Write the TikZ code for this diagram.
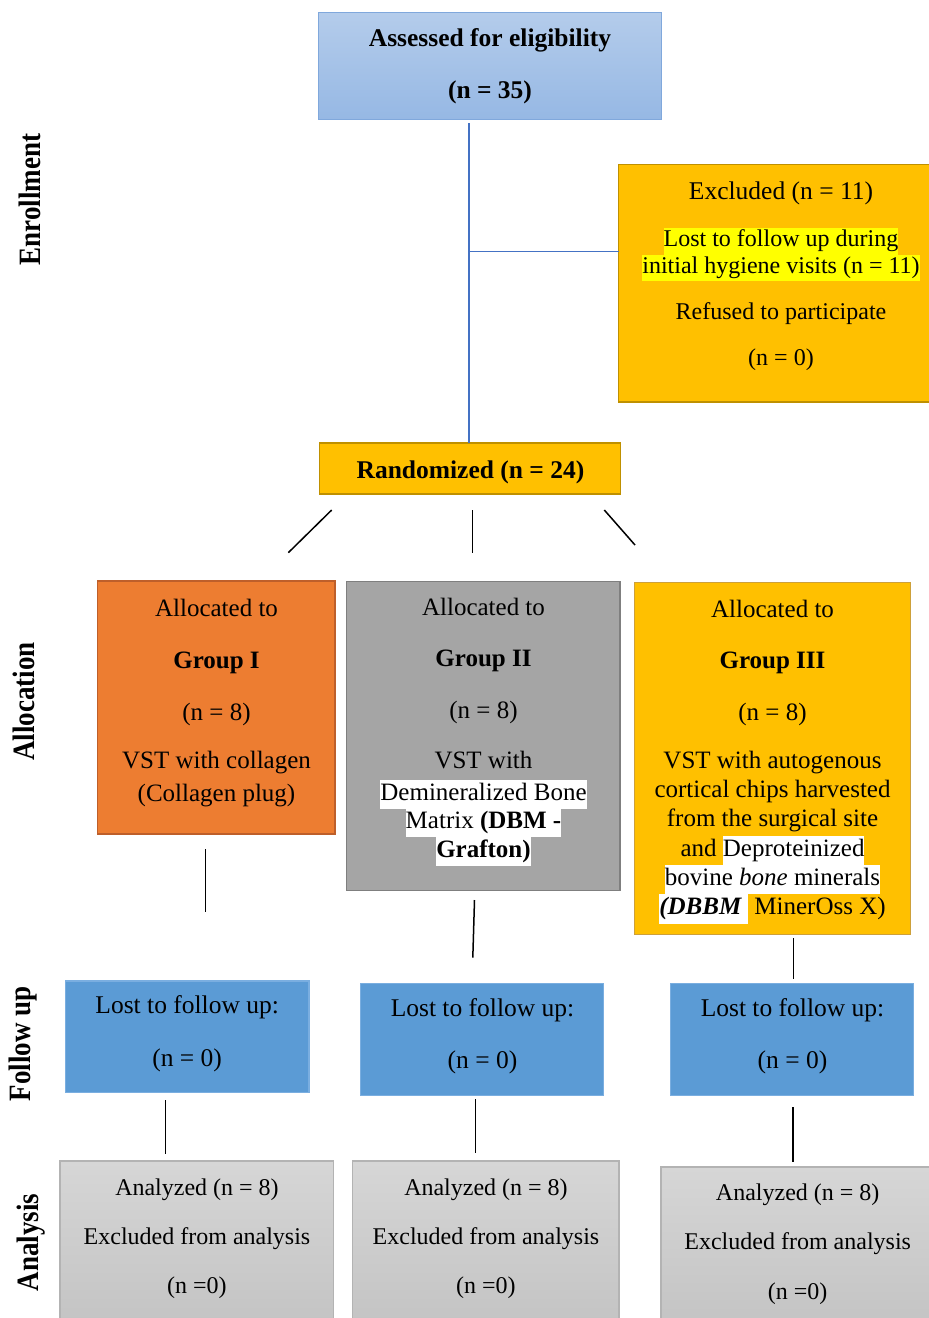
\documentclass[tikz,border=0pt]{standalone}
\usepackage{fontspec}
\setmainfont{Liberation Serif}
\usepackage{graphicx}
\definecolor{yelF}{HTML}{FFC000}
\definecolor{yelB}{HTML}{BF9000}
\definecolor{yelB2}{HTML}{CDA03A}
\definecolor{orgF}{HTML}{ED7D31}
\definecolor{orgB}{HTML}{BE5F2A}
\definecolor{gryF}{HTML}{A5A5A5}
\definecolor{gryB}{HTML}{7F7F7F}
\definecolor{bluF}{HTML}{5B9BD5}
\definecolor{bluB}{HTML}{7AAEE0}
\definecolor{asTop}{HTML}{B4CCEB}
\definecolor{asBot}{HTML}{96B8E4}
\definecolor{asB}{HTML}{80A8DC}
\definecolor{anTop}{HTML}{D6D6D6}
\definecolor{anBot}{HTML}{C3C3C3}
\definecolor{anB}{HTML}{B3B3B3}
\definecolor{lineBlue}{HTML}{4472C4}
\definecolor{hlYel}{HTML}{FFFF00}
\newcommand{\myhl}[2]{{\setlength{\fboxsep}{0pt}\colorbox{#1}{\strut #2}}}
\begin{document}
\begin{tikzpicture}[x=1pt,y=-1pt]
\tikzset{
  box/.style={draw, line width=1.8, inner sep=0pt, outer sep=0pt, rectangle},
  tx/.style={inner sep=0pt, outer sep=0pt, align=center, anchor=north},
  conn/.style={draw=black, line width=1.5},
  bconn/.style={draw=lineBlue, line width=2},
  side/.style={rotate=90, inner sep=0pt, font=\fontsize{27}{30}\selectfont\bfseries},
}
\clip (0,0) rectangle (929,1318);
\fill[white] (0,0) rectangle (929,1318);

% side labels
\node[side] (sEnr) at (30,199.5) {\scalebox{1}[1.15]{Enrollment}};
\node[side] (sAll) at (24,701.5) {\scalebox{1}[1.15]{Allocation}};
\node[side] (sFol) at (23,1044) {\scalebox{1}[1.15]{Follow up}};
\node[side] (sAna) at (31,1242.5) {\scalebox{1}[1.15]{Analysis}};

% boxes
\node[box, draw=asB, line width=1.2, top color=asTop, bottom color=asBot, minimum width=343, minimum height=106.8] (assess) at (490,65.9) {};
\node[box, draw=yelB, fill=yelF, minimum width=324.5, minimum height=237.8] (excl) at (780.75,283.4) {};
\node[box, draw=yelB, fill=yelF, minimum width=301, minimum height=51.4] (rand) at (470,468.5) {};
\node[box, draw=orgB, fill=orgF, minimum width=237.3, minimum height=253] (g1) at (216.15,707.5) {};
\node[box, draw=gryB, fill=gryF, minimum width=273.5, minimum height=309] (g2) at (483.25,736) {};
\node[box, draw=yelB2, fill=yelF, minimum width=276, minimum height=352] (g3) at (772.5,758.5) {};
\node[box, draw=bluB, fill=bluF, line width=1.2, minimum width=243.5, minimum height=111.7] (fu1) at (187.25,1036.85) {};
\node[box, draw=bluB, fill=bluF, line width=1.2, minimum width=243, minimum height=112] (fu2) at (482,1039.3) {};
\node[box, draw=bluB, fill=bluF, line width=1.2, minimum width=243, minimum height=112] (fu3) at (792,1039.3) {};
\node[box, draw=anB, line width=1.2, top color=anTop, bottom color=anBot, minimum width=273.5, minimum height=169] (an1) at (196.75,1245.5) {};
\node[box, draw=anB, line width=1.2, top color=anTop, bottom color=anBot, minimum width=266.5, minimum height=169] (an2) at (485.75,1245.5) {};
\node[box, draw=anB, line width=1.2, top color=anTop, bottom color=anBot, minimum width=274, minimum height=163] (an3) at (798,1248.5) {};

% texts
\node[tx, font=\fontsize{25.5}{29.5}\selectfont\bfseries] (assessT) at (490,25.85) {\strut Assessed for eligibility\\[22pt](n = 35)};
\node[tx, font=\fontsize{24}{26.5}\selectfont] (exclT) at (781,180.45) {\strut{\fontsize{25.5}{26.5}\selectfont Excluded (n = 11)}\\[21.2pt]\myhl{hlYel}{Lost to follow up during}\\\myhl{hlYel}{initial hygiene visits (n = 11)}\\[20pt]Refused to participate\\[19.2pt](n = 0)};
\node[anchor=base, inner sep=0pt, font=\fontsize{25.5}{29}\selectfont\bfseries] (randT) at (470.5,478.3) {Randomized (n = 24)};
\node[tx, font=\fontsize{25}{29}\selectfont] (g1T) at (216.5,595.7) {\strut Allocated to\\[23pt]\textbf{Group I}\\[23pt](n = 8)\\[19.3pt]VST with collagen\\[4.4pt](Collagen plug)};
\node[tx, font=\fontsize{25}{29}\selectfont] (g2T) at (483.5,594.7) {\strut Allocated to\\[22.7pt]\textbf{Group II}\\[22.6pt](n = 8)\\[21pt]VST with\\[2.7pt]\myhl{white}{Demineralized Bone}\\[-0.5pt]\myhl{white}{Matrix \textbf{(DBM -}}\\[-0.5pt]\myhl{white}{\textbf{Grafton)}}};
\node[tx, font=\fontsize{25}{29.3}\selectfont] (g3T) at (772.5,597.2) {\strut Allocated to\\[21.3pt]\textbf{Group III}\\[22.4pt](n = 8)\\[19pt]VST with autogenous\\cortical chips harvested\\from the surgical site\\and \myhl{white}{Deproteinized}\\\myhl{white}{bovine \textit{bone} minerals}\\\myhl{white}{\textbf{\textit{(DBBM}}\ }\ MinerOss X)};
\node[tx, font=\fontsize{25.5}{29.5}\selectfont] (fu1T) at (187.2,992.65) {\strut Lost to follow up:\\[23.2pt](n = 0)};
\node[tx, font=\fontsize{25.5}{29.5}\selectfont] (fu2T) at (482.5,995.35) {\strut Lost to follow up:\\[22.8pt](n = 0)};
\node[tx, font=\fontsize{25.5}{29.5}\selectfont] (fu3T) at (792.5,995.35) {\strut Lost to follow up:\\[22.8pt](n = 0)};
\node[tx, font=\fontsize{24}{28}\selectfont] (an1T) at (197,1175.4) {\strut Analyzed (n = 8)\\[21pt]Excluded from analysis\\[21.3pt](n =0)};
\node[tx, font=\fontsize{24}{28}\selectfont] (an2T) at (486,1175.4) {\strut Analyzed (n = 8)\\[21pt]Excluded from analysis\\[21.3pt](n =0)};
\node[tx, font=\fontsize{24}{28}\selectfont] (an3T) at (797.7,1181.1) {\strut Analyzed (n = 8)\\[21pt]Excluded from analysis\\[21.3pt](n =0)};

% connector end points
\coordinate (b0) at (469,123.3);
\coordinate (bj) at (469,251.7);
\coordinate (r1a) at (331.7,510);
\coordinate (r1b) at (288.3,552.7);
\coordinate (r2a) at (472.7,510);
\coordinate (r2b) at (472.7,553);
\coordinate (r3a) at (604.3,510);
\coordinate (r3b) at (635,545);
\coordinate (c1a) at (205.7,849.3);
\coordinate (c1b) at (205.7,911.7);
\coordinate (c2a) at (474.5,900);
\coordinate (c2b) at (472.8,957.7);
\coordinate (c3a) at (793.3,938.3);
\coordinate (c3b) at (793.3,979);
\coordinate (e1a) at (165.4,1100);
\coordinate (e1b) at (165.4,1154.3);
\coordinate (e2a) at (475.4,1099.3);
\coordinate (e2b) at (475.4,1152.7);
\coordinate (e3a) at (793,1107.3);
\coordinate (e3b) at (793,1161.7);

% connectors
\draw[bconn] (b0) -- (b0 |- rand.north);
\draw[bconn, line width=1.4] (bj) -- (bj -| excl.west);
\draw[conn] (r1a) -- (r1b);
\draw[conn] (r2a) -- (r2b);
\draw[conn] (r3a) -- (r3b);
\draw[conn] (c1a) -- (c1b);
\draw[conn] (c2a) -- (c2b);
\draw[conn] (c3a) -- (c3b);
\draw[conn] (e1a) -- (e1b);
\draw[conn] (e2a) -- (e2b);
\draw[conn] (e3a) -- (e3b);
\end{tikzpicture}
\end{document}
